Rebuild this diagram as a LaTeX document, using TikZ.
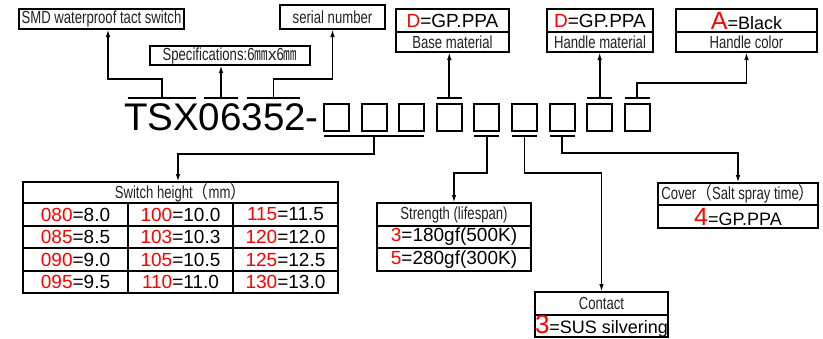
\documentclass[tikz,border=0pt]{standalone}
\usepackage{fontspec}
\setmainfont{Liberation Sans}
\newfontfamily\narrow{Liberation Sans}[FakeStretch=0.75]
\newfontfamily\cjkn{Noto Sans CJK SC}[FakeStretch=0.75]
\newfontfamily\cjkw{Noto Sans CJK SC}[FakeStretch=0.9]
\usetikzlibrary{arrows.meta}
\definecolor{codered}{RGB}{255,0,0}
\definecolor{labelgray}{RGB}{34,34,34}
\newcommand{\rd}[1]{\textcolor{codered}{#1}}
\newcommand{\fsz}[1]{\fontsize{#1}{#1}\selectfont}
\tikzset{
  ln/.style={line width=1.8pt, black},
  arr/.style={ln, -{Latex[length=8pt,width=4.5pt]}},
  cell/.style={draw, line width=1.8pt, inner sep=0pt, outer sep=0pt, anchor=center},
  lbl/.style={font=\narrow\fsz{17.5}, text=labelgray},
  val/.style={font=\fsz{19}},
  sq/.style={draw, line width=2pt, minimum width=25pt, minimum height=27pt, inner sep=0pt, outer sep=0pt},
}
\begin{document}
\begin{tikzpicture}[x=1pt,y=-1pt]
\useasboundingbox[fill=white] (0,0) rectangle (823,338);

% ---------- top labels ----------
\node[cell, lbl, minimum width=165pt, minimum height=20pt] (smd) at (101.5,19) {SMD waterproof tact switch};
\node[cell, lbl, minimum width=105pt, minimum height=24pt] (serial) at (332.5,17) {serial number};
\node[cell, lbl, minimum width=160pt, minimum height=19pt] (spec) at (230,55.5) {Specifications:6{\cjkn\fsz{18}㎜}{\normalfont\fsz{17}x}6{\cjkn\fsz{18}㎜}};

\node[cell, val, minimum width=113pt, minimum height=23pt] (baseV) at (452.5,20.5) {\rd{D}=GP.PPA};
\node[cell, lbl, minimum width=113pt, minimum height=20pt] (base) at (452.5,42) {Base material};

\node[cell, val, minimum width=106pt, minimum height=23pt] (hmV) at (600,20.5) {\rd{D}=GP.PPA};
\node[cell, lbl, minimum width=106pt, minimum height=20pt] (hm) at (600,42) {Handle material};

\node[cell, minimum width=141pt, minimum height=23pt] (hcV) at (746.5,20.5) {{\fsz{25}\rd{A}}{\fsz{18}=Black}};
\node[cell, lbl, minimum width=141pt, minimum height=20pt] (hc) at (746.5,42) {Handle color};

% ---------- code ----------
\node[inner sep=0pt, outer sep=0pt, anchor=base west, font=\fsz{38.5}] (code) at (124,130) {TSX06352-};
\foreach \i in {1,...,9}
  \node[sq] (s\i) at ({336.5+37.6*(\i-1)},117.5) {};

% bars over the code text
\coordinate (b1) at (162,98);
\coordinate (b2) at (221,98);
\coordinate (b3) at (273.5,98);
\draw[ln] ([xshift=-34pt]b1) -- ([xshift=34pt]b1);
\draw[ln] ([xshift=-17pt]b2) -- ([xshift=17pt]b2);
\draw[ln] ([xshift=-26.5pt]b3) -- ([xshift=26.5pt]b3);

% bars over / under the squares
\foreach \i in {4,8,9} {
  \coordinate (t\i) at ([yshift=6pt]s\i.north);
  \draw[ln] ([yshift=6pt]s\i.north west) -- ([yshift=6pt]s\i.north east);
}
\coordinate (u13) at ([yshift=-5pt]s2.south);
\draw[ln] ([yshift=-5pt]s1.south west) -- ([yshift=-5pt]s3.south east);
\foreach \i in {5,6,7} {
  \coordinate (u\i) at ([yshift=-5pt]s\i.south);
  \draw[ln] ([yshift=-5pt]s\i.south west) -- ([yshift=-5pt]s\i.south east);
}

% ---------- switch height table ----------
\node[cell, lbl, minimum width=315pt, minimum height=21pt] (th) at (180.5,192.5) {Switch height{\cjkw （}mm{\cjkw ）}};
\foreach \r/\y in {1/214.5,2/237,3/259.5,4/282} {
  \foreach \c/\x in {1/75.5,2/180.5,3/285.5}
    \node[cell, val, minimum width=105pt, minimum height=22.5pt] (t\r\c) at (\x,\y) {};
}
\node[val] at (t11) {\rd{080}=8.0};
\node[val] at (t12) {\rd{100}=10.0};
\node[val] at (t13) {\rd{115}=11.5};
\node[val] at (t21) {\rd{085}=8.5};
\node[val] at (t22) {\rd{103}=10.3};
\node[val] at (t23) {\rd{120}=12.0};
\node[val] at (t31) {\rd{090}=9.0};
\node[val] at (t32) {\rd{105}=10.5};
\node[val] at (t33) {\rd{125}=12.5};
\node[val] at (t41) {\rd{095}=9.5};
\node[val] at (t42) {\rd{110}=11.0};
\node[val] at (t43) {\rd{130}=13.0};

% ---------- strength ----------
\node[cell, lbl, minimum width=154pt, minimum height=23pt] (st) at (454,214.5) {Strength (lifespan)};
\node[cell, val, minimum width=154pt, minimum height=22.5pt] (st1) at (454,237) {\rd{3}=180gf(500K)};
\node[cell, val, minimum width=154pt, minimum height=22.5pt] (st2) at (454,259.5) {\rd{5}=280gf(300K)};

% ---------- contact ----------
\node[cell, lbl, minimum width=133pt, minimum height=23pt] (ct) at (601.5,303.5) {Contact};
\node[cell, minimum width=133pt, minimum height=22pt] (ct1) at (601.5,326) {{\fsz{26}\rd{3}}{\fsz{18}=SUS silvering}};

% ---------- cover ----------
\node[cell, lbl, minimum width=160pt, minimum height=22pt] (cv) at (738,194) {Cover{\cjkw （}Salt spray time{\cjkw ）}};
\node[cell, minimum width=160pt, minimum height=23pt] (cv1) at (738,216.5) {{\fsz{25}\rd{4}}{\fsz{18}=GP.PPA}};

% ---------- connectors ----------
\draw[arr] (b1) -- ++(0,-19) -| ([xshift=6.5pt]smd.south);
\draw[arr] (b2) -- (b2 |- spec.south);
\draw[arr] (b3) -- ++(0,-19) -| (serial.south);
\draw[arr] (t4) -- (t4 |- base.south);
\draw[arr] (t8) -- (t8 |- hm.south);
\draw[arr] (t9) -- ++(0,-15) -| (hc.south);
\draw[arr] (u13) -- ++(0,18) -| ([xshift=-2.5pt]th.north);
\draw[arr] (u5) -- ++(0,37) -| (st.north);
\draw[arr] (u6) -- ++(0,37) -| (ct.north);
\draw[arr] (u7) -- ++(0,17) -| (cv.north);
\end{tikzpicture}
\end{document}
